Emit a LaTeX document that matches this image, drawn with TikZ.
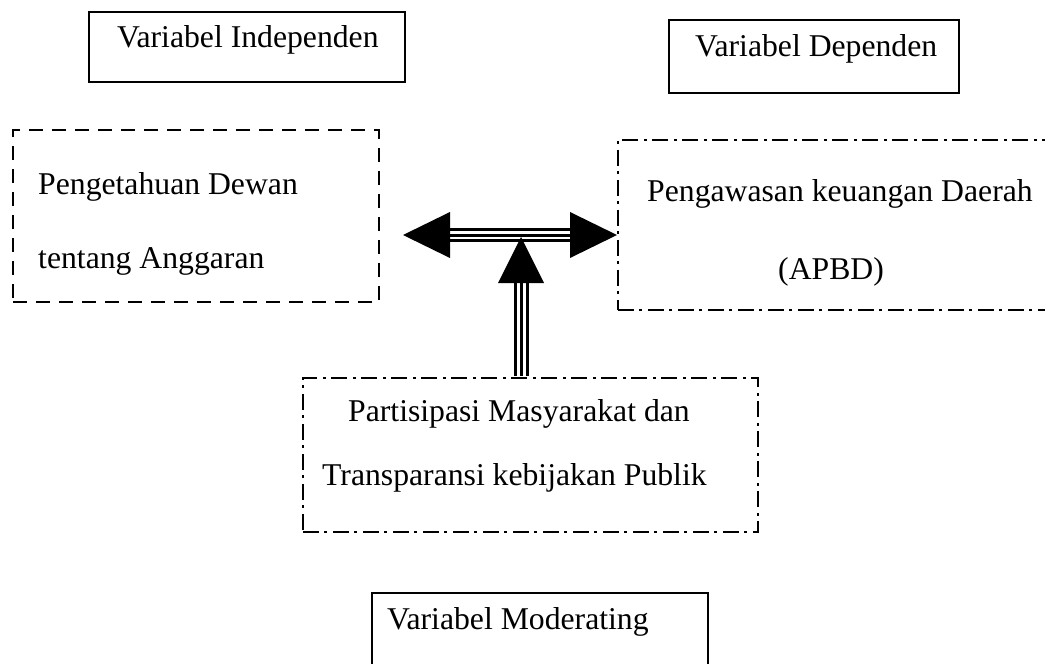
\documentclass[tikz,border=0pt]{standalone}
\usepackage{fontspec}
\setmainfont{Liberation Serif}
\begin{document}
\begin{tikzpicture}[x=1pt,y=-1pt,
  boxbase/.style={draw=black, line width=2pt, rectangle, inner sep=0pt, fill=none},
  solidbox/.style={boxbase},
  dashbox/.style={boxbase, dash pattern=on 14pt off 9pt},
  dotbox/.style={boxbase, dash pattern=on 16pt off 5pt on 3pt off 6pt},
  lbl/.style={anchor=base west, inner sep=0pt, font=\fontsize{31.7pt}{38pt}\selectfont},
  head/.style={fill=black, draw=none}
]
\useasboundingbox (0,0) rectangle (1045,664);
\clip (0,0) rectangle (1045,664);
\fill[white] (0,0) rectangle (1045,664);

% header boxes
\node[solidbox, minimum width=316pt, minimum height=70pt] (vi) at (247,47) {};
\node[lbl] (tvi) at (117,47) {Variabel Independen};
\node[solidbox, minimum width=290pt, minimum height=73pt] (vd) at (814,56.5) {};
\node[lbl] (tvd) at (695,56) {Variabel Dependen};

% left dashed box
\node[dashbox, minimum width=366pt, minimum height=172pt] (lb) at (196,216) {};
\node[lbl] (tl1) at (38,194) {Pengetahuan Dewan};
\node[lbl] (tl2) at (38,268) {tentang Anggaran};

% right dash-dot box (runs off the right edge)
\node[dotbox, minimum width=450pt, minimum height=170pt] (rb) at (843,225) {};
\node[lbl] (tr1) at (647,201) {Pengawasan keuangan Daerah};
\node[lbl] (tr2) at (778,279) {(APBD)};

% moderating dash-dot box
\node[dotbox, minimum width=455pt, minimum height=154pt] (pb) at (530.5,455) {};
\node[lbl] (tp1) at (348,421) {Partisipasi Masyarakat dan};
\node[lbl] (tp2) at (322,485) {Transparansi kebijakan Publik};

% bottom label box (runs off the bottom edge)
\node[solidbox, minimum width=336pt, minimum height=100pt] (vm) at (540,643) {};
\node[lbl] (tvm) at (387,629) {Variabel Moderating};

% connectors
\coordinate (lt) at (403,235);
\coordinate (rt) at (rb.west |- lt);
\coordinate (lb1) at ([xshift=47pt]lt);
\coordinate (rb1) at ([xshift=-47pt]rt);
\draw[line width=14pt] (lb1) -- (rb1);
\draw[line width=8pt, white] (lb1) -- (rb1);
\draw[line width=3pt] (lb1) -- (rb1);
\fill[head] (lt) -- ([yshift=-23pt]lb1) -- ([yshift=23pt]lb1) -- cycle;
\fill[head] (rt) -- ([yshift=-23pt]rb1) -- ([yshift=23pt]rb1) -- cycle;

\coordinate (vt) at (521,237);
\coordinate (vb) at (521,283);
\coordinate (vs) at (pb.north -| vt);
\draw[line width=15pt] (vb) -- ([yshift=1pt]vs);
\draw[line width=9pt, white] (vb) -- ([yshift=1pt]vs);
\draw[line width=3pt] (vb) -- ([yshift=1pt]vs);
\fill[head] (vt) -- ([xshift=-23pt]vb) -- ([xshift=23pt]vb) -- cycle;
\end{tikzpicture}
\end{document}
